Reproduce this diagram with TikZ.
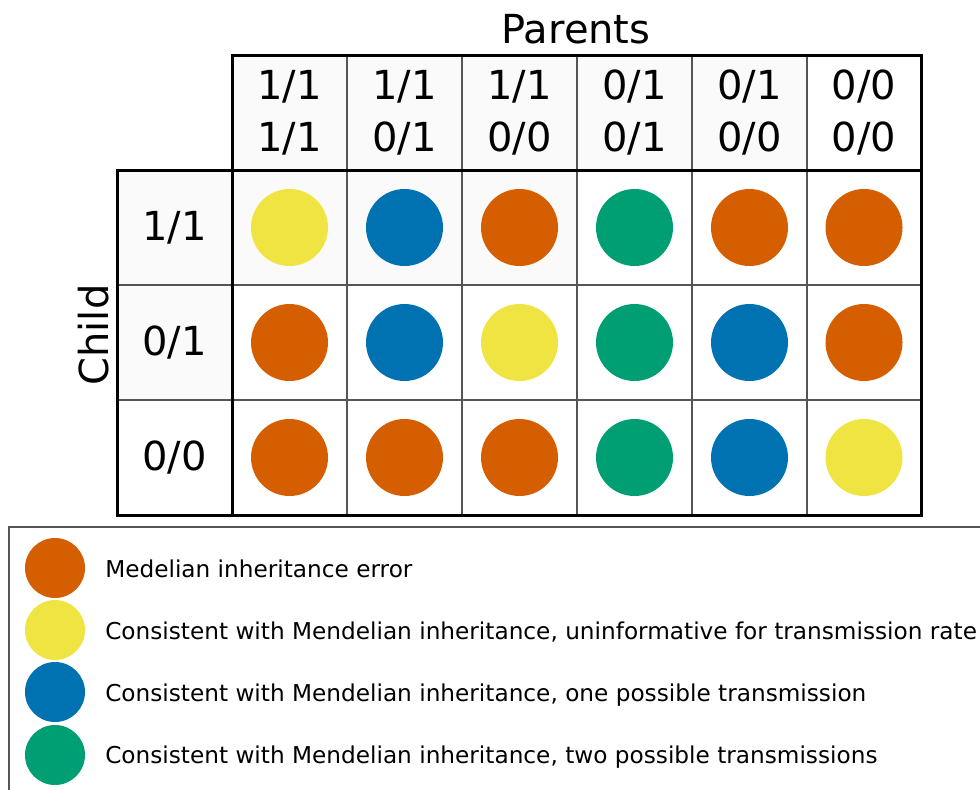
\documentclass[tikz,border=0pt]{standalone}
\usepackage{fontspec}
\setmainfont{DejaVu Sans}

\definecolor{errorc}{HTML}{D55E00}
\definecolor{uninfc}{HTML}{F0E442}
\definecolor{onec}{HTML}{0072B2}
\definecolor{twoc}{HTML}{009E73}
\definecolor{cellgray}{HTML}{FAFAFA}
\definecolor{gridgray}{HTML}{555555}

\tikzset{
  dot/.style={circle, inner sep=0pt, minimum size=57.75pt},
  keydot/.style={circle, inner sep=0pt, minimum size=45pt},
  gt/.style={font=\fontsize{30}{39}\selectfont, align=center, inner sep=0pt},
  keytext/.style={font=\fontsize{17.4}{20}\selectfont, anchor=base west, inner sep=0pt},
  thinline/.style={draw=gridgray, line width=0.85pt},
  thickline/.style={draw=black, line width=2.25pt},
}

\begin{document}
\begin{tikzpicture}[x=0.75pt, y=-0.75pt]
    \useasboundingbox (0,0) rectangle (980,789);

    % Light shading of some cells
    \fill[cellgray] (232,55) rectangle (807,170);
    \fill[cellgray] (232,170) rectangle (577,285);
    \fill[cellgray] (117,170) rectangle (232,400);

    % Thin inner lines
    \draw[thinline] (347,55) -- (347,515);
    \draw[thinline] (462,55) -- (462,515);
    \draw[thinline] (577,55) -- (577,515);
    \draw[thinline] (692,55) -- (692,515);
    \draw[thinline] (807,55) -- (807,515);
    \draw[thinline] (117,285) -- (921,285);
    \draw[thinline] (117,400) -- (921,400);

    % Thick borders
    \draw[thickline] (232,55) rectangle (921,515);
    \draw[thickline] (232,170) -- (921,170);
    \draw[thickline] (117,170) rectangle (232,515);

    % Axis titles
    \node[gt, anchor=base] (parents) at (576,43) {Parents};
    \node[gt, rotate=90] (child) at (94,335) {Child};

    % Parent genotypes
    \node[gt] (p1) at (289.5,112.5) {1/1\\1/1};
    \node[gt] (p2) at (404.5,112.5) {1/1\\0/1};
    \node[gt] (p3) at (519.5,112.5) {1/1\\0/0};
    \node[gt] (p4) at (634.5,112.5) {0/1\\0/1};
    \node[gt] (p5) at (749.5,112.5) {0/1\\0/0};
    \node[gt] (p6) at (864,112.5) {0/0\\0/0};

    % Child genotypes
    \node[gt] (c1) at (174.5,227.5) {1/1};
    \node[gt] (c2) at (174.5,342.5) {0/1};
    \node[gt] (c3) at (174.5,457.5) {0/0};

    % Row 1/1
    \node[dot, fill=uninfc] (d11) at (289.5,227.5) {};
    \node[dot, fill=onec]   (d12) at (404.5,227.5) {};
    \node[dot, fill=errorc] (d13) at (519.5,227.5) {};
    \node[dot, fill=twoc]   (d14) at (634.5,227.5) {};
    \node[dot, fill=errorc] (d15) at (749.5,227.5) {};
    \node[dot, fill=errorc] (d16) at (864,227.5) {};

    % Row 0/1
    \node[dot, fill=errorc] (d21) at (289.5,342.5) {};
    \node[dot, fill=onec]   (d22) at (404.5,342.5) {};
    \node[dot, fill=uninfc] (d23) at (519.5,342.5) {};
    \node[dot, fill=twoc]   (d24) at (634.5,342.5) {};
    \node[dot, fill=onec]   (d25) at (749.5,342.5) {};
    \node[dot, fill=errorc] (d26) at (864,342.5) {};

    % Row 0/0
    \node[dot, fill=errorc] (d31) at (289.5,457.5) {};
    \node[dot, fill=errorc] (d32) at (404.5,457.5) {};
    \node[dot, fill=errorc] (d33) at (519.5,457.5) {};
    \node[dot, fill=twoc]   (d34) at (634.5,457.5) {};
    \node[dot, fill=onec]   (d35) at (749.5,457.5) {};
    \node[dot, fill=uninfc] (d36) at (864,457.5) {};

    % Legend frame
    \draw[draw=gridgray, line width=1.1pt] (985,527) -- (9,527) -- (9,795);

    % Legend entries
    \node[keydot, fill=errorc] (k1) at (55,568) {};
    \node[keydot, fill=uninfc] (k2) at (55,630) {};
    \node[keydot, fill=onec]   (k3) at (55,692) {};
    \node[keydot, fill=twoc]   (k4) at (55,755) {};
    \node[keytext] (t1) at (105,577) {Medelian inheritance error};
    \node[keytext] (t2) at (105,639) {Consistent with Mendelian inheritance, uninformative for transmission rate};
    \node[keytext] (t3) at (105,701) {Consistent with Mendelian inheritance, one possible transmission};
    \node[keytext] (t4) at (105,763) {Consistent with Mendelian inheritance, two possible transmissions};
\end{tikzpicture}
\end{document}
